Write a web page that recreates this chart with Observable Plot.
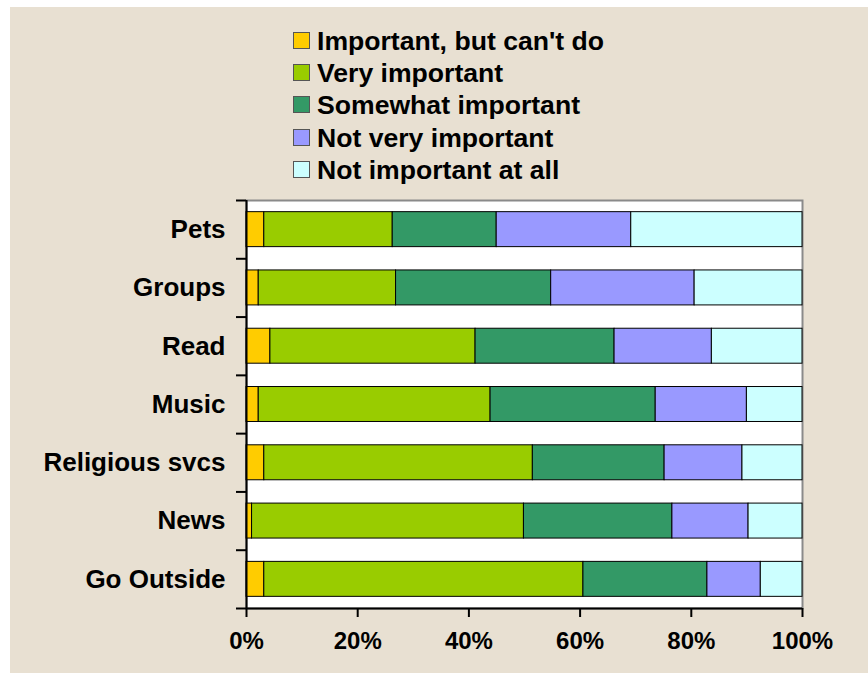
<!DOCTYPE html>
<html>
<head>
<meta charset="utf-8">
<script src="https://cdn.jsdelivr.net/npm/d3@7"></script>
<script src="https://cdn.jsdelivr.net/npm/@observablehq/plot@0.6"></script>
<style>
  html, body { margin: 0; padding: 0; background: #ffffff; }
  #wrap { position: relative; width: 868px; height: 673px; overflow: hidden; font-family: "Liberation Sans", Arial, sans-serif; }
  #bg { position: absolute; left: 10px; top: 7px; right: 0; bottom: 0; background: #E8E0D2; }
  #chart { position: absolute; left: 0; top: 0; }
  #legend { position: absolute; left: 293px; top: 28px; }
  .item { position: absolute; left: 0; height: 26px; white-space: nowrap; font-weight: bold; font-size: 26.6px; line-height: 26px; color: #000; }
  .sw { position: absolute; left: 0; top: 4px; width: 15px; height: 15px; border: 1px solid #555; }
  .lab { position: absolute; left: 24px; top: 0; }
</style>
</head>
<body>
<div id="wrap">
  <div id="bg"></div>
  <div id="chart"></div>
  <div id="legend"></div>
</div>
<script>
const categories = ["Pets", "Groups", "Read", "Music", "Religious svcs", "News", "Go Outside"];
const responses = ["Important, but can't do", "Very important", "Somewhat important", "Not very important", "Not important at all"];
const colors = ["#FFCC00", "#99CC00", "#339966", "#9999FF", "#CCFFFF"];
const cantDo        = [3.2, 2.2, 4.3, 2.2, 3.2, 1.0, 3.2];
const veryImportant = [23.1, 24.7, 36.9, 41.7, 48.3, 48.9, 57.4];
const somewhat      = [18.7, 27.9, 25.0, 29.7, 23.7, 26.7, 22.3];
const notVery       = [24.2, 25.8, 17.5, 16.4, 14.0, 13.7, 9.6];
const notAtAll      = [30.8, 19.4, 16.3, 10.0, 10.8, 9.7, 7.5];
const xTicks = [0, 20, 40, 60, 80, 100];

const series = [cantDo, veryImportant, somewhat, notVery, notAtAll];
const rows = [];
categories.forEach((c, i) => {
  let acc = 0;
  series.forEach((s, k) => {
    rows.push({category: c, idx: i, response: responses[k], x1: acc, x2: acc + s[i]});
    acc += s[i];
  });
});

const chart = Plot.plot({
  width: 868,
  height: 673,
  marginLeft: 246,
  marginRight: 66,
  marginTop: 200,
  marginBottom: 65,
  style: {background: "transparent", fontFamily: "'Liberation Sans', Arial, sans-serif", fontWeight: "bold", fontSize: "26px", color: "#000", overflow: "visible"},
  x: {domain: [0, 100]},
  y: {domain: [0, categories.length], reverse: true},
  color: {domain: responses, range: colors},
  marks: [
    Plot.frame({fill: "white", stroke: "#8a8a8a", strokeWidth: 2}),
    Plot.rect(rows, {x1: "x1", x2: "x2", y1: d => d.idx + 0.2, y2: d => d.idx + 0.8, fill: "response", stroke: "#000", strokeWidth: 1}),
    Plot.ruleX([0], {y1: 0, y2: categories.length, stroke: "#000", strokeWidth: 2}),
    Plot.ruleY([categories.length], {x1: 0, x2: 100, stroke: "#000", strokeWidth: 2}),
    Plot.axisY({ticks: d3.range(0, categories.length + 1), tickFormat: () => "", tickSize: 10, strokeWidth: 2, stroke: "#000"}),
    Plot.axisY({ticks: categories.map((d, i) => i + 0.5), tickFormat: v => categories[Math.floor(v)], tickSize: 0, tickPadding: 21, fontSize: 26, fontWeight: "bold", fill: "#000"}),
    Plot.axisX({ticks: xTicks, tickFormat: d => d + "%", tickSize: 9, tickPadding: 14, strokeWidth: 2, stroke: "#000", fontSize: 24, fontWeight: "bold", fill: "#000"})
  ]
});
document.getElementById("chart").appendChild(chart);

const legend = document.getElementById("legend");
responses.forEach((r, i) => {
  const item = document.createElement("div");
  item.className = "item";
  item.style.top = (i * 32.2) + "px";
  const sw = document.createElement("div");
  sw.className = "sw";
  sw.style.background = colors[i];
  const lab = document.createElement("div");
  lab.className = "lab";
  lab.textContent = r;
  item.appendChild(sw);
  item.appendChild(lab);
  legend.appendChild(item);
});
</script>
</body>
</html>
